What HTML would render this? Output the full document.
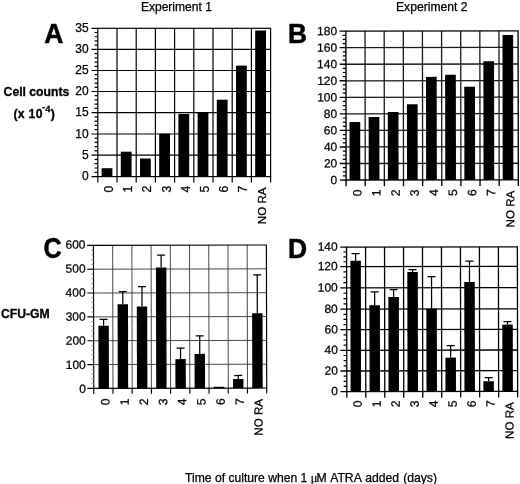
<!DOCTYPE html>
<html><head><meta charset="utf-8"><title>Figure</title>
<style>
html,body{margin:0;padding:0;background:#fff;}
body{width:520px;height:484px;overflow:hidden;font-family:"Liberation Sans", sans-serif;}
svg{display:block;opacity:0.999;will-change:transform;filter:blur(0.35px);}
svg text{font-family:"Liberation Sans", sans-serif;fill:#000;stroke:#000;stroke-width:0.25px;}
svg text[font-weight=bold]{stroke-width:0.3px;}
svg text.big{stroke-width:0.5px;}
</style></head>
<body>
<svg width="520" height="484" viewBox="0 0 520 484">
<rect x="0" y="0" width="520" height="484" fill="#fff"/>
<g><path d="M117 28.3V176.6M136.2 28.3V176.6M155.4 28.3V176.6M174.6 28.3V176.6M193.8 28.3V176.6M213 28.3V176.6M232.2 28.3V176.6M251.4 28.3V176.6M97.8 49.4H270.6M97.8 70.5H270.6M97.8 91.5H270.6M97.8 112.6H270.6M97.8 134H270.6M97.8 155.1H270.6" stroke="#000" stroke-width="1.2" fill="none"/>
<rect x="97.8" y="28.3" width="172.8" height="148.3" fill="none" stroke="#000" stroke-width="1.2"/>
<path d="M91.5 28.3H97.8M91.5 49.4H97.8M91.5 70.5H97.8M91.5 91.5H97.8M91.5 112.6H97.8M91.5 134H97.8M91.5 155.1H97.8M91.5 176.6H97.8M97.8 176.6V182.4M117 176.6V182.4M136.2 176.6V182.4M155.4 176.6V182.4M174.6 176.6V182.4M193.8 176.6V182.4M213 176.6V182.4M232.2 176.6V182.4M251.4 176.6V182.4M270.6 176.6V182.4" stroke="#000" stroke-width="1.2" fill="none"/>
<path d="M94.6 32.52H97.8M94.6 36.74H97.8M94.6 40.96H97.8M94.6 45.18H97.8M94.6 53.62H97.8M94.6 57.84H97.8M94.6 62.06H97.8M94.6 66.28H97.8M94.6 74.7H97.8M94.6 78.9H97.8M94.6 83.1H97.8M94.6 87.3H97.8M94.6 95.72H97.8M94.6 99.94H97.8M94.6 104.16H97.8M94.6 108.38H97.8M94.6 116.88H97.8M94.6 121.16H97.8M94.6 125.44H97.8M94.6 129.72H97.8M94.6 138.22H97.8M94.6 142.44H97.8M94.6 146.66H97.8M94.6 150.88H97.8M94.6 159.4H97.8M94.6 163.7H97.8M94.6 168H97.8M94.6 172.3H97.8" stroke="#000" stroke-width="1.2" fill="none"/>
<rect x="101.6" y="168.2" width="10.8" height="8.4" fill="#000"/>
<rect x="120.8" y="151.7" width="10.8" height="24.9" fill="#000"/>
<rect x="140" y="158.5" width="10.8" height="18.1" fill="#000"/>
<rect x="159.2" y="133.7" width="10.8" height="42.9" fill="#000"/>
<rect x="178.4" y="114" width="10.8" height="62.6" fill="#000"/>
<rect x="197.6" y="112.8" width="10.8" height="63.8" fill="#000"/>
<rect x="216.8" y="99.7" width="10.8" height="76.9" fill="#000"/>
<rect x="236" y="65.6" width="10.8" height="111" fill="#000"/>
<rect x="255.2" y="30.5" width="10.8" height="146.1" fill="#000"/>
<text x="88.7" y="31.6" font-size="12" text-anchor="end">35</text>
<text x="88.7" y="52.76" font-size="12" text-anchor="end">30</text>
<text x="88.7" y="73.92" font-size="12" text-anchor="end">25</text>
<text x="88.7" y="94.99" font-size="12" text-anchor="end">20</text>
<text x="88.7" y="116.15" font-size="12" text-anchor="end">15</text>
<text x="88.7" y="137.61" font-size="12" text-anchor="end">10</text>
<text x="88.7" y="158.78" font-size="12" text-anchor="end">5</text>
<text x="88.7" y="180.34" font-size="12" text-anchor="end">0</text>
<text transform="translate(112.9 185.6) rotate(-90)" font-size="12.2" text-anchor="end">0</text>
<text transform="translate(132.1 185.6) rotate(-90)" font-size="12.2" text-anchor="end">1</text>
<text transform="translate(151.3 185.6) rotate(-90)" font-size="12.2" text-anchor="end">2</text>
<text transform="translate(170.5 185.6) rotate(-90)" font-size="12.2" text-anchor="end">3</text>
<text transform="translate(189.7 185.6) rotate(-90)" font-size="12.2" text-anchor="end">4</text>
<text transform="translate(208.9 185.6) rotate(-90)" font-size="12.2" text-anchor="end">5</text>
<text transform="translate(228.1 185.6) rotate(-90)" font-size="12.2" text-anchor="end">6</text>
<text transform="translate(247.3 185.6) rotate(-90)" font-size="12.2" text-anchor="end">7</text>
<text transform="translate(266.4 187.5) rotate(-90)" font-size="11.6" text-anchor="end">NO RA</text></g>
<g transform="rotate(-0.08 346 105.6)"><path d="M365.13 31.15V180.05M384.27 31.15V180.05M403.4 31.15V180.05M422.53 31.15V180.05M441.67 31.15V180.05M460.8 31.15V180.05M479.93 31.15V180.05M499.07 31.15V180.05M346 47.69H518.2M346 64.24H518.2M346 80.78H518.2M346 97.33H518.2M346 113.87H518.2M346 130.42H518.2M346 146.96H518.2M346 163.51H518.2" stroke="#181818" stroke-width="1.3" fill="none"/>
<rect x="346" y="31.15" width="172.2" height="148.9" fill="none" stroke="#000" stroke-width="1.35"/>
<path d="M339.7 31.15H346M339.7 47.69H346M339.7 64.24H346M339.7 80.78H346M339.7 97.33H346M339.7 113.87H346M339.7 130.42H346M339.7 146.96H346M339.7 163.51H346M339.7 180.05H346M346 180.05V186.25M365.13 180.05V186.25M384.27 180.05V186.25M403.4 180.05V186.25M422.53 180.05V186.25M441.67 180.05V186.25M460.8 180.05V186.25M479.93 180.05V186.25M499.07 180.05V186.25M518.2 180.05V186.25" stroke="#000" stroke-width="1.35" fill="none"/>
<path d="M342.8 35.29H346M342.8 39.42H346M342.8 43.56H346M342.8 51.83H346M342.8 55.97H346M342.8 60.1H346M342.8 68.38H346M342.8 72.51H346M342.8 76.65H346M342.8 84.92H346M342.8 89.06H346M342.8 93.19H346M342.8 101.46H346M342.8 105.6H346M342.8 109.74H346M342.8 118.01H346M342.8 122.14H346M342.8 126.28H346M342.8 134.55H346M342.8 138.69H346M342.8 142.82H346M342.8 151.1H346M342.8 155.23H346M342.8 159.37H346M342.8 167.64H346M342.8 171.78H346M342.8 175.91H346" stroke="#000" stroke-width="1.2" fill="none"/>
<rect x="349.5" y="122.1" width="10.7" height="57.95" fill="#000"/>
<rect x="368.63" y="117.1" width="10.7" height="62.95" fill="#000"/>
<rect x="387.77" y="112.1" width="10.7" height="67.95" fill="#000"/>
<rect x="406.9" y="104.3" width="10.7" height="75.75" fill="#000"/>
<rect x="426.03" y="77" width="10.7" height="103.05" fill="#000"/>
<rect x="445.17" y="74.9" width="10.7" height="105.15" fill="#000"/>
<rect x="464.3" y="86.9" width="10.7" height="93.15" fill="#000"/>
<rect x="483.43" y="61.5" width="10.7" height="118.55" fill="#000"/>
<rect x="502.57" y="35.2" width="10.7" height="144.85" fill="#000"/>
<text x="337.2" y="35.25" font-size="12" text-anchor="end">180</text>
<text x="337.2" y="51.79" font-size="12" text-anchor="end">160</text>
<text x="337.2" y="68.33" font-size="12" text-anchor="end">140</text>
<text x="337.2" y="84.88" font-size="12" text-anchor="end">120</text>
<text x="337.2" y="101.42" font-size="12" text-anchor="end">100</text>
<text x="337.2" y="117.97" font-size="12" text-anchor="end">80</text>
<text x="337.2" y="134.51" font-size="12" text-anchor="end">60</text>
<text x="337.2" y="151.06" font-size="12" text-anchor="end">40</text>
<text x="337.2" y="167.6" font-size="12" text-anchor="end">20</text>
<text x="337.2" y="184.15" font-size="12" text-anchor="end">0</text>
<text transform="translate(361.27 189.45) rotate(-90)" font-size="12.2" text-anchor="end">0</text>
<text transform="translate(380.4 189.45) rotate(-90)" font-size="12.2" text-anchor="end">1</text>
<text transform="translate(399.53 189.45) rotate(-90)" font-size="12.2" text-anchor="end">2</text>
<text transform="translate(418.67 189.45) rotate(-90)" font-size="12.2" text-anchor="end">3</text>
<text transform="translate(437.8 189.45) rotate(-90)" font-size="12.2" text-anchor="end">4</text>
<text transform="translate(456.93 189.45) rotate(-90)" font-size="12.2" text-anchor="end">5</text>
<text transform="translate(476.07 189.45) rotate(-90)" font-size="12.2" text-anchor="end">6</text>
<text transform="translate(495.2 189.45) rotate(-90)" font-size="12.2" text-anchor="end">7</text>
<text transform="translate(514.03 190.95) rotate(-90)" font-size="11.6" text-anchor="end">NO RA</text></g>
<g transform="rotate(-0.12 93.6 316.88)"><path d="M112.82 245.35V388.4M132.03 245.35V388.4M151.25 245.35V388.4M170.47 245.35V388.4M189.68 245.35V388.4M208.9 245.35V388.4M228.12 245.35V388.4M247.33 245.35V388.4M93.6 269.19H266.55M93.6 293.03H266.55M93.6 316.88H266.55M93.6 340.72H266.55M93.6 364.56H266.55" stroke="#333" stroke-width="0.9" fill="none"/>
<rect x="93.6" y="245.35" width="172.95" height="143.05" fill="none" stroke="#000" stroke-width="1.15"/>
<path d="M87.3 245.35H93.6M87.3 269.19H93.6M87.3 293.03H93.6M87.3 316.88H93.6M87.3 340.72H93.6M87.3 364.56H93.6M87.3 388.4H93.6M93.6 388.4V393.9M112.82 388.4V393.9M132.03 388.4V393.9M151.25 388.4V393.9M170.47 388.4V393.9M189.68 388.4V393.9M208.9 388.4V393.9M228.12 388.4V393.9M247.33 388.4V393.9M266.55 388.4V393.9" stroke="#000" stroke-width="1.15" fill="none"/>
<path d="M91.1 250.12H93.6M91.1 254.89H93.6M91.1 259.65H93.6M91.1 264.42H93.6M91.1 273.96H93.6M91.1 278.73H93.6M91.1 283.5H93.6M91.1 288.26H93.6M91.1 297.8H93.6M91.1 302.57H93.6M91.1 307.34H93.6M91.1 312.11H93.6M91.1 321.64H93.6M91.1 326.41H93.6M91.1 331.18H93.6M91.1 335.95H93.6M91.1 345.48H93.6M91.1 350.25H93.6M91.1 355.02H93.6M91.1 359.79H93.6M91.1 369.33H93.6M91.1 374.09H93.6M91.1 378.86H93.6M91.1 383.63H93.6" stroke="#999" stroke-width="0.9" fill="none"/>
<rect x="98.4" y="325.8" width="10.4" height="62.6" fill="#000"/>
<path d="M103.6 325.8V319.3M99.6 319.3H107.6" stroke="#000" stroke-width="1.25" fill="none"/>
<rect x="117.62" y="304.2" width="10.4" height="84.2" fill="#000"/>
<path d="M122.82 304.2V291.8M118.82 291.8H126.82" stroke="#000" stroke-width="1.25" fill="none"/>
<rect x="136.83" y="306.7" width="10.4" height="81.7" fill="#000"/>
<path d="M142.03 306.7V286.7M138.03 286.7H146.03" stroke="#000" stroke-width="1.25" fill="none"/>
<rect x="156.05" y="267.6" width="10.4" height="120.8" fill="#000"/>
<path d="M161.25 267.6V255.2M157.25 255.2H165.25" stroke="#000" stroke-width="1.25" fill="none"/>
<rect x="175.27" y="359.3" width="10.4" height="29.1" fill="#000"/>
<path d="M180.47 359.3V348.3M176.47 348.3H184.47" stroke="#000" stroke-width="1.25" fill="none"/>
<rect x="194.48" y="354.1" width="10.4" height="34.3" fill="#000"/>
<path d="M199.68 354.1V336.1M195.68 336.1H203.68" stroke="#000" stroke-width="1.25" fill="none"/>
<rect x="213.7" y="387.1" width="10.4" height="1.3" fill="#000"/>
<rect x="232.92" y="379.3" width="10.4" height="9.1" fill="#000"/>
<path d="M238.12 379.3V375.8M234.12 375.8H242.12" stroke="#000" stroke-width="1.25" fill="none"/>
<rect x="252.13" y="313.5" width="10.4" height="74.9" fill="#000"/>
<path d="M257.33 313.5V275.3M253.33 275.3H261.33" stroke="#000" stroke-width="1.25" fill="none"/>
<text x="85.7" y="248.65" font-size="12" text-anchor="end">600</text>
<text x="85.7" y="272.69" font-size="12" text-anchor="end">500</text>
<text x="85.7" y="296.73" font-size="12" text-anchor="end">400</text>
<text x="85.7" y="320.78" font-size="12" text-anchor="end">300</text>
<text x="85.7" y="344.82" font-size="12" text-anchor="end">200</text>
<text x="85.7" y="368.87" font-size="12" text-anchor="end">100</text>
<text x="85.7" y="392.91" font-size="12" text-anchor="end">0</text>
<text transform="translate(109.31 398.6) rotate(-90)" font-size="12.2" text-anchor="end">0</text>
<text transform="translate(128.53 398.6) rotate(-90)" font-size="12.2" text-anchor="end">1</text>
<text transform="translate(147.74 398.6) rotate(-90)" font-size="12.2" text-anchor="end">2</text>
<text transform="translate(166.96 398.6) rotate(-90)" font-size="12.2" text-anchor="end">3</text>
<text transform="translate(186.17 398.6) rotate(-90)" font-size="12.2" text-anchor="end">4</text>
<text transform="translate(205.39 398.6) rotate(-90)" font-size="12.2" text-anchor="end">5</text>
<text transform="translate(224.61 398.6) rotate(-90)" font-size="12.2" text-anchor="end">6</text>
<text transform="translate(243.82 398.6) rotate(-90)" font-size="12.2" text-anchor="end">7</text>
<text transform="translate(262.34 399.3) rotate(-90)" font-size="11.6" text-anchor="end">NO RA</text></g>
<g transform="rotate(-0.1 346.7 319.35)"><path d="M365.68 247.1V391.6M384.66 247.1V391.6M403.63 247.1V391.6M422.61 247.1V391.6M441.59 247.1V391.6M460.57 247.1V391.6M479.54 247.1V391.6M498.52 247.1V391.6M346.7 266.6H517.5M346.7 287.9H517.5M346.7 309.2H517.5M346.7 329.7H517.5M346.7 350.3H517.5M346.7 371H517.5" stroke="#000" stroke-width="1.3" fill="none"/>
<rect x="346.7" y="247.1" width="170.8" height="144.5" fill="none" stroke="#000" stroke-width="1.3"/>
<path d="M340.4 247.1H346.7M340.4 266.6H346.7M340.4 287.9H346.7M340.4 309.2H346.7M340.4 329.7H346.7M340.4 350.3H346.7M340.4 371H346.7M340.4 391.6H346.7M346.7 391.6V397.8M365.68 391.6V397.8M384.66 391.6V397.8M403.63 391.6V397.8M422.61 391.6V397.8M441.59 391.6V397.8M460.57 391.6V397.8M479.54 391.6V397.8M498.52 391.6V397.8M517.5 391.6V397.8" stroke="#000" stroke-width="1.3" fill="none"/>
<path d="M343.5 251.97H346.7M343.5 256.85H346.7M343.5 261.73H346.7M343.5 271.93H346.7M343.5 277.25H346.7M343.5 282.57H346.7M343.5 293.22H346.7M343.5 298.55H346.7M343.5 303.88H346.7M343.5 314.32H346.7M343.5 319.45H346.7M343.5 324.57H346.7M343.5 334.85H346.7M343.5 340H346.7M343.5 345.15H346.7M343.5 355.48H346.7M343.5 360.65H346.7M343.5 365.82H346.7M343.5 376.15H346.7M343.5 381.3H346.7M343.5 386.45H346.7" stroke="#000" stroke-width="1.2" fill="none"/>
<rect x="350.45" y="260.8" width="10.5" height="130.8" fill="#000"/>
<path d="M355.7 260.8V253.6M351.7 253.6H359.7" stroke="#000" stroke-width="1.25" fill="none"/>
<rect x="369.43" y="305.2" width="10.5" height="86.4" fill="#000"/>
<path d="M374.68 305.2V292M370.68 292H378.68" stroke="#000" stroke-width="1.25" fill="none"/>
<rect x="388.41" y="297" width="10.5" height="94.6" fill="#000"/>
<path d="M393.66 297V289.8M389.66 289.8H397.66" stroke="#000" stroke-width="1.25" fill="none"/>
<rect x="407.38" y="272.2" width="10.5" height="119.4" fill="#000"/>
<path d="M412.63 272.2V269.7M408.63 269.7H416.63" stroke="#000" stroke-width="1.25" fill="none"/>
<rect x="426.36" y="308.8" width="10.5" height="82.8" fill="#000"/>
<path d="M431.61 308.8V276.7M427.61 276.7H435.61" stroke="#000" stroke-width="1.25" fill="none"/>
<rect x="445.34" y="357.8" width="10.5" height="33.8" fill="#000"/>
<path d="M450.59 357.8V345.8M446.59 345.8H454.59" stroke="#000" stroke-width="1.25" fill="none"/>
<rect x="464.32" y="282.1" width="10.5" height="109.5" fill="#000"/>
<path d="M469.57 282.1V261.4M465.57 261.4H473.57" stroke="#000" stroke-width="1.25" fill="none"/>
<rect x="483.29" y="381.6" width="10.5" height="10" fill="#000"/>
<path d="M488.54 381.6V377.9M484.54 377.9H492.54" stroke="#000" stroke-width="1.25" fill="none"/>
<rect x="502.27" y="324.9" width="10.5" height="66.7" fill="#000"/>
<path d="M507.52 324.9V321.8M503.52 321.8H511.52" stroke="#000" stroke-width="1.25" fill="none"/>
<text x="337.8" y="250.8" font-size="12" text-anchor="end">140</text>
<text x="337.8" y="270.3" font-size="12" text-anchor="end">120</text>
<text x="337.8" y="291.6" font-size="12" text-anchor="end">100</text>
<text x="337.8" y="312.9" font-size="12" text-anchor="end">80</text>
<text x="337.8" y="333.4" font-size="12" text-anchor="end">60</text>
<text x="337.8" y="354" font-size="12" text-anchor="end">40</text>
<text x="337.8" y="374.7" font-size="12" text-anchor="end">20</text>
<text x="337.8" y="395.3" font-size="12" text-anchor="end">0</text>
<text transform="translate(361.69 400.6) rotate(-90)" font-size="12.2" text-anchor="end">0</text>
<text transform="translate(380.67 400.6) rotate(-90)" font-size="12.2" text-anchor="end">1</text>
<text transform="translate(399.64 400.6) rotate(-90)" font-size="12.2" text-anchor="end">2</text>
<text transform="translate(418.62 400.6) rotate(-90)" font-size="12.2" text-anchor="end">3</text>
<text transform="translate(437.6 400.6) rotate(-90)" font-size="12.2" text-anchor="end">4</text>
<text transform="translate(456.58 400.6) rotate(-90)" font-size="12.2" text-anchor="end">5</text>
<text transform="translate(475.56 400.6) rotate(-90)" font-size="12.2" text-anchor="end">6</text>
<text transform="translate(494.53 400.6) rotate(-90)" font-size="12.2" text-anchor="end">7</text>
<text transform="translate(513.41 402.5) rotate(-90)" font-size="11.6" text-anchor="end">NO RA</text></g>
<text class="big" transform="translate(44.2 43.1) scale(1.0 1.04)" font-size="26.5" font-weight="bold">A</text>
<text class="big" transform="translate(287.9 42.9) scale(0.99 1.03)" font-size="26.5" font-weight="bold">B</text>
<text class="big" transform="translate(43.4 258) scale(0.95 1.08)" font-size="26.5" font-weight="bold">C</text>
<text class="big" transform="translate(287.9 257.8) scale(1.0 1.04)" font-size="26.5" font-weight="bold">D</text>
<text x="140.9" y="10.5" font-size="12.05">Experiment 1</text>
<text x="396.0" y="10.5" font-size="12.15">Experiment 2</text>
<text x="3.6" y="95.7" font-size="12.2" font-weight="bold">Cell counts</text>
<text x="13.5" y="117.6" font-size="12.2" font-weight="bold" letter-spacing="0.3">(x 10</text>
<rect x="42.2" y="107.1" width="3" height="1.2" fill="#000"/>
<text x="45.3" y="112" font-size="9.4" font-weight="bold">4</text>
<text x="50.8" y="118" font-size="12.2" font-weight="bold">)</text>
<text x="0.9" y="317.6" font-size="12.2" font-weight="bold">CFU-GM</text>
<text x="185" y="481.7" font-size="12.15">Time of culture when 1</text>
<text x="310.8" y="481.7" font-size="12.4" font-family="'Liberation Serif', serif" style="font-family:'Liberation Serif',serif">μ</text>
<text x="316.6" y="481.7" font-size="12.2" word-spacing="0.7">M ATRA added (days)</text>
</svg>
</body></html>
